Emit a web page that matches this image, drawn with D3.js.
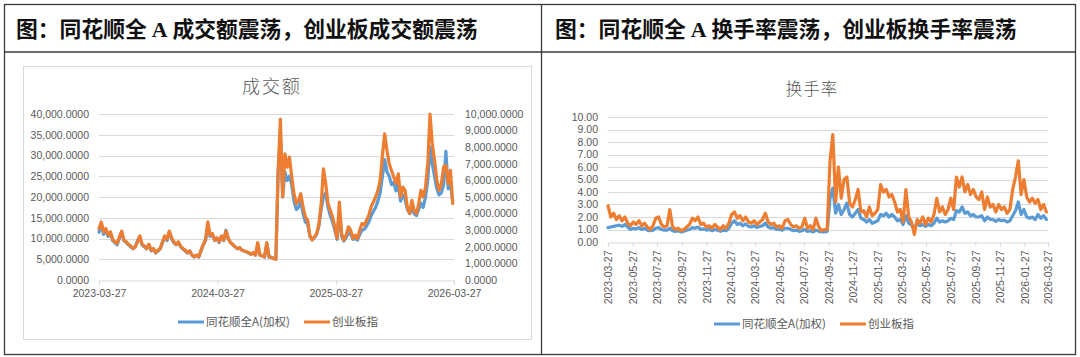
<!DOCTYPE html>
<html><head><meta charset="utf-8">
<script src="https://cdn.jsdelivr.net/npm/d3@7"></script>
<style>
html,body{margin:0;padding:0;background:#fff;}
svg{display:block;}
</style></head>
<body>
<svg id="c" width="1080" height="357"></svg>
<script>
// ---------------- DATA ----------------
const seriesStart = "2023-03-27"; // weekly observations, one per week from this date
const seriesNames = ["同花顺全A(加权)", "创业板指"];

// 成交额 (亿元): 同花顺全A (left axis)
const amountAll = [
11500,13500,11000,12000,10500,11500,9500,9000,8500,10000,
11500,9500,9000,8500,8000,7500,8000,9500,10500,8500,
8000,7500,8500,7000,7500,6500,7000,7500,9000,10500,
9500,11500,10000,9000,8500,9000,8000,7500,7000,6500,
7000,6000,5500,6000,5500,7000,8500,9500,13500,10500,
11000,9500,10000,9000,10500,9500,12000,10000,9000,8500,
8000,7500,7800,7200,7000,6800,6500,6200,6500,6000,
8500,6000,5800,5500,8800,5500,5500,5200,5000,26000,
34800,20000,26000,24000,25000,23000,19000,17000,17500,19000,
16000,14000,13500,10500,9800,10200,11000,13000,17000,20000,
21000,17500,15500,14000,12000,9800,16500,10500,9400,10200,
11500,11000,9800,10000,9600,11000,12000,12200,13000,14000,
15500,16500,17500,19000,21000,25000,29000,26000,25000,23000,
23500,21500,23000,19000,20500,19500,17000,16000,17500,16000,
15500,17000,18500,17500,20000,24000,32000,28000,25000,22000,
20500,21000,23000,31000,22000,23000,19000];

// 成交额 (亿元): 创业板指 (right axis)
const amountGem = [
3100,3500,2900,3100,2700,2900,2450,2300,2200,2600,
2950,2400,2300,2150,2050,1900,2000,2300,2650,2150,
2050,1900,2150,1800,1900,1650,1800,1900,2300,2650,
2450,2950,2550,2300,2150,2300,2050,1900,1800,1650,
1750,1500,1400,1500,1400,1800,2150,2450,3500,2700,
2800,2400,2550,2300,2650,2400,2950,2500,2250,2150,
2000,1900,1950,1800,1750,1700,1650,1550,1650,1500,
2250,1500,1450,1400,2250,1400,1350,1300,1250,6500,
9700,5000,7600,6800,7400,6200,5200,4600,4800,5200,
4400,3800,3600,2700,2400,2600,2800,3400,4600,6700,
5800,4600,4200,3800,3200,2500,4700,2800,2400,2700,
3200,3000,2500,2700,2500,3000,3400,3300,3600,3900,
4400,4700,5000,5400,6000,7500,8800,7800,7000,6600,
6200,5800,6400,5000,5600,5400,4400,4000,4800,4200,
4000,4600,5400,5000,5600,7000,10000,8200,7200,6000,
5400,5800,6800,6900,5800,6600,4600];

// 换手率 (%): 同花顺全A
const turnAll = [
1.15,1.2,1.25,1.3,1.35,1.25,1.4,1.2,1.0,1.1,
1.05,1.15,1.0,1.1,0.95,0.9,0.95,1.1,1.15,1.0,
0.95,0.95,1.1,0.9,0.85,0.9,0.8,0.85,0.95,1.0,
1.15,1.1,1.2,1.0,1.05,0.95,1.0,0.9,1.0,0.95,
0.85,0.95,0.9,1.1,1.5,1.7,1.4,1.5,1.3,1.45,
1.25,1.2,1.3,1.15,1.25,1.3,1.5,1.2,1.1,1.15,
1.0,1.0,0.95,1.1,1.1,1.0,0.9,0.95,0.85,0.9,
1.0,0.85,0.9,0.8,0.95,0.85,0.8,0.8,0.85,3.5,
4.3,2.3,3.0,2.2,2.6,3.1,2.2,2.0,2.3,2.6,
1.9,1.8,1.6,1.8,1.5,1.6,1.7,2.2,2.1,2.3,
2.0,2.2,2.0,1.7,1.8,1.4,2.1,1.5,1.35,1.2,
1.45,1.3,1.4,1.25,1.4,1.3,1.5,1.9,1.6,1.7,
1.6,1.7,1.9,1.8,2.5,2.4,2.8,2.3,2.4,2.1,
2.2,2.0,2.0,2.1,1.7,2.0,1.8,1.8,1.65,1.8,
1.7,1.75,1.6,1.7,2.1,2.5,3.2,2.2,2.6,2.0,
1.9,2.0,1.8,2.2,1.9,2.1,1.8];

// 换手率 (%): 创业板指
const turnGem = [
2.9,2.0,2.3,1.8,2.1,1.7,2.0,1.5,1.3,1.6,
1.4,1.7,1.3,1.5,1.2,1.0,1.3,1.9,2.0,1.4,
1.2,1.3,2.6,1.2,1.0,1.1,0.9,1.0,1.2,1.4,
1.9,1.7,2.0,1.4,1.5,1.2,1.3,1.1,1.4,1.2,
1.0,1.3,1.1,1.5,2.2,2.4,1.9,2.1,1.7,2.0,
1.6,1.5,1.7,1.4,1.6,1.8,2.3,1.6,1.4,1.5,
1.2,1.3,1.1,1.7,1.8,1.4,1.2,1.3,1.1,1.2,
1.9,1.1,1.3,1.0,1.9,1.2,0.9,1.0,1.0,6.5,
8.6,3.2,6.0,3.5,5.0,5.2,3.1,2.8,3.4,4.2,
2.4,2.5,2.0,2.8,2.1,2.3,2.6,4.6,4.0,4.2,
3.6,3.8,3.2,2.4,2.6,1.6,4.2,2.0,1.6,0.6,
1.8,1.5,2.0,1.4,1.9,1.6,2.2,3.5,2.4,2.8,
2.2,2.6,3.5,2.6,5.2,4.4,5.2,4.0,4.6,3.8,
4.2,3.6,3.4,4.0,2.6,3.6,2.8,3.0,2.4,3.0,
2.6,2.8,2.3,2.6,4.2,5.2,6.5,3.8,5.0,3.6,
3.2,3.5,3.1,3.4,2.6,3.0,2.4];

const amountLeftTicks = [0,5000,10000,15000,20000,25000,30000,35000,40000];
const amountRightTicks = [0,1000,2000,3000,4000,5000,6000,7000,8000,9000,10000];
const amountDateTicks = ["2023-03-27","2024-03-27","2025-03-27","2026-03-27"];
const turnTicks = [0,1,2,3,4,5,6,7,8,9,10];
const turnDateTicks = ["2023-03-27","2023-05-27","2023-07-27","2023-09-27","2023-11-27",
"2024-01-27","2024-03-27","2024-05-27","2024-07-27","2024-09-27","2024-11-27",
"2025-01-27","2025-03-27","2025-05-27","2025-07-27","2025-09-27","2025-11-27",
"2026-01-27","2026-03-27"];
const headers = [["图：同花顺全 ","A"," 成交额震荡，创业板成交额震荡"],
                 ["图：同花顺全 ","A"," 换手率震荡，创业板换手率震荡"]];
const chartTitles = ["成交额","换手率"];

// ---------------- DRAW ----------------
const parse = d3.timeParse("%Y-%m-%d");
const fmtDate = d3.timeFormat("%Y-%m-%d");
const t0 = parse(seriesStart);
const dates = amountAll.map((_, i) => d3.timeDay.offset(t0, 7 * i));
const BLUE = "#5B9BD5", ORANGE = "#ED7D31", GRID = "#D9D9D9", TXT = "#595959";
const NUM_FONT = "'Liberation Sans', Arial, sans-serif";
const CJK_FONT = "'Noto Sans CJK SC', 'Noto Sans', sans-serif";
const LW = 3.2;

const svg = d3.select("#c");

// table frame
const frame = svg.append("g").attr("fill", "none").attr("stroke", "#3a3a3a").attr("stroke-width", 1.3);
frame.append("rect").attr("x", 4.5).attr("y", 4.5).attr("width", 1071).attr("height", 350);
frame.append("line").attr("x1", 4.5).attr("x2", 1075.5).attr("y1", 52).attr("y2", 52);
frame.append("line").attr("x1", 541.5).attr("x2", 541.5).attr("y1", 4.5).attr("y2", 354.5);

// headers
[[16, 0], [555, 1]].forEach(([x, i]) => {
  const t = svg.append("text").attr("x", x).attr("y", 36.5)
    .attr("font-family", CJK_FONT).attr("font-weight", 700).attr("font-size", 21.8).attr("fill", "#111");
  t.append("tspan").text(headers[i][0]);
  t.append("tspan").attr("font-family", "'Liberation Serif', serif").text(headers[i][1]);
  t.append("tspan").text(headers[i][2]);
});

// left chart area border
svg.append("rect").attr("x", 23.5).attr("y", 66.5).attr("width", 508).attr("height", 273)
  .attr("fill", "none").attr("stroke", GRID);

function legend(g, x0, y, gap) {
  [[BLUE, seriesNames[0]], [ORANGE, seriesNames[1]]].forEach(([c, name], i) => {
    const x = x0 + i * gap;
    g.append("line").attr("x1", x).attr("x2", x + 26).attr("y1", y).attr("y2", y)
      .attr("stroke", c).attr("stroke-width", 3);
    g.append("text").attr("x", x + 28).attr("y", y + 4).attr("font-family", CJK_FONT)
      .attr("font-size", 11.5).attr("fill", TXT).text(name);
  });
}

// ---------- Left chart: 成交额 ----------
{
  const g = svg.append("g");
  const x = d3.scaleTime().domain([parse("2023-03-27"), parse("2026-03-27")]).range([99, 454]);
  const yL = d3.scaleLinear().domain([0, 40000]).range([280, 114]);
  const yR = d3.scaleLinear().domain([0, 10000]).range([280, 114]);

  g.append("text").attr("x", 272).attr("y", 93).attr("text-anchor", "middle")
    .attr("font-family", CJK_FONT).attr("font-weight", 300).attr("font-size", 18)
    .attr("letter-spacing", 2).attr("fill", TXT).text(chartTitles[0]);

  g.selectAll(".grid").data(amountLeftTicks.filter(d => d > 0)).join("line")
    .attr("x1", 99).attr("x2", 454).attr("y1", d => Math.round(yL(d)) + 0.5).attr("y2", d => Math.round(yL(d)) + 0.5)
    .attr("stroke", GRID).attr("stroke-width", 1);

  const ax = g.append("g").attr("transform", "translate(0,280.5)")
    .call(d3.axisBottom(x).tickValues(amountDateTicks.map(parse)).tickFormat(fmtDate).tickSize(4).tickPadding(5));
  ax.select(".domain").attr("stroke", GRID);
  ax.selectAll(".tick line").attr("stroke", GRID);
  ax.selectAll("text").attr("font-family", NUM_FONT).attr("font-size", 10.5).attr("fill", TXT);

  const ayl = g.append("g").attr("transform", "translate(89,0)")
    .call(d3.axisLeft(yL).tickValues(amountLeftTicks).tickFormat(d3.format(",.4f")).tickSize(0).tickPadding(0));
  ayl.select(".domain").remove();
  ayl.selectAll("text").attr("font-family", NUM_FONT).attr("font-size", 10.5).attr("fill", TXT);

  const ayr = g.append("g").attr("transform", "translate(465,0)")
    .call(d3.axisRight(yR).tickValues(amountRightTicks).tickFormat(d3.format(",.4f")).tickSize(0).tickPadding(0));
  ayr.select(".domain").remove();
  ayr.selectAll("text").attr("font-family", NUM_FONT).attr("font-size", 10.5).attr("fill", TXT);

  const lineL = d3.line().x((d, i) => x(dates[i])).y(d => yL(d));
  const lineR = d3.line().x((d, i) => x(dates[i])).y(d => yR(d));
  g.append("path").attr("d", lineL(amountAll)).attr("fill", "none").attr("stroke", BLUE)
    .attr("stroke-width", LW).attr("stroke-linejoin", "round").attr("stroke-linecap", "round");
  g.append("path").attr("d", lineR(amountGem)).attr("fill", "none").attr("stroke", ORANGE)
    .attr("stroke-width", LW).attr("stroke-linejoin", "round").attr("stroke-linecap", "round");

  legend(g, 178, 322, 126);
}

// ---------- Right chart: 换手率 ----------
{
  const g = svg.append("g");
  const x = d3.scaleTime().domain([parse("2023-03-27"), parse("2026-03-27")]).range([608, 1048]);
  const y = d3.scaleLinear().domain([0, 10]).range([242, 117]);

  g.append("text").attr("x", 812).attr("y", 95).attr("text-anchor", "middle")
    .attr("font-family", CJK_FONT).attr("font-weight", 300).attr("font-size", 16.5)
    .attr("letter-spacing", 1).attr("fill", TXT).text(chartTitles[1]);

  g.selectAll(".grid").data(turnTicks.filter(d => d > 0)).join("line")
    .attr("x1", 608).attr("x2", 1048).attr("y1", d => Math.round(y(d)) + 0.5).attr("y2", d => Math.round(y(d)) + 0.5)
    .attr("stroke", GRID).attr("stroke-width", 1);

  const ax = g.append("g").attr("transform", "translate(0,242.5)")
    .call(d3.axisBottom(x).tickValues(turnDateTicks.map(parse)).tickFormat(fmtDate).tickSize(4));
  ax.select(".domain").attr("stroke", GRID);
  ax.selectAll(".tick line").attr("stroke", GRID);
  ax.selectAll("text").attr("font-family", NUM_FONT).attr("font-size", 10.5).attr("fill", TXT)
    .attr("transform", "rotate(-90)").attr("text-anchor", "end")
    .attr("x", -8).attr("y", 0).attr("dy", "0.35em");

  const ay = g.append("g").attr("transform", "translate(598,0)")
    .call(d3.axisLeft(y).tickValues(turnTicks).tickFormat(d3.format(".2f")).tickSize(0).tickPadding(0));
  ay.select(".domain").remove();
  ay.selectAll("text").attr("font-family", NUM_FONT).attr("font-size", 10.5).attr("fill", TXT);

  const line = d3.line().x((d, i) => x(dates[i])).y(d => y(d));
  g.append("path").attr("d", line(turnAll)).attr("fill", "none").attr("stroke", BLUE)
    .attr("stroke-width", LW).attr("stroke-linejoin", "round").attr("stroke-linecap", "round");
  g.append("path").attr("d", line(turnGem)).attr("fill", "none").attr("stroke", ORANGE)
    .attr("stroke-width", LW).attr("stroke-linejoin", "round").attr("stroke-linecap", "round");

  legend(g, 714, 324, 126);
}
</script>
</body></html>
